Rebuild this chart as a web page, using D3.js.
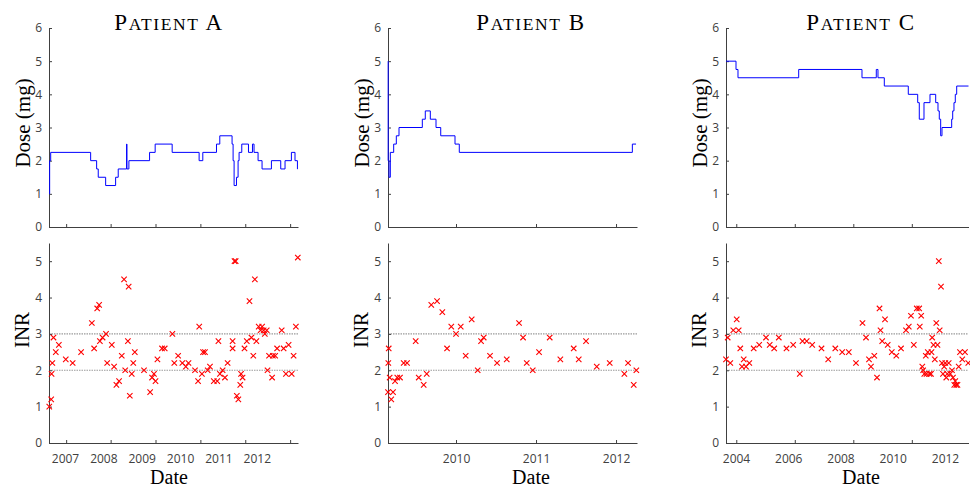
<!DOCTYPE html>
<html>
<head>
<meta charset="utf-8">
<script src="https://cdn.jsdelivr.net/npm/d3@7"></script>
<style>
  body { margin: 0; background: #fff; }
</style>
</head>
<body>
<script>
// Warfarin dose and INR for three patients, dates as decimal years

var w = 970;
var h = 489;

// y ticks
var doseTicks = [0, 1, 2, 3, 4, 5, 6];
var inrTicks = [0, 1, 2, 3, 4, 5];
var inrRange = [2, 3];

// x tick labels (years) and tick marks
var yearsA = [2007, 2008, 2009, 2010, 2011, 2012];
var marksA = [2007.03, 2008.19, 2009.36, 2010.53, 2011.70, 2012.87];
var yearsB = [2010, 2011, 2012];
var marksB = [2010, 2011, 2012];
var yearsC = [2004, 2006, 2008, 2010, 2012];
var marksC = [2004.01, 2006.25, 2008.49, 2010.73];

// Patient A
var doseDatesA = [2006.583, 2006.60, 2006.627, 2007.669, 2007.825, 2007.867, 2008.06, 2008.32, 2008.388, 2008.606,
  2008.615, 2008.666, 2009.205, 2009.351, 2009.794, 2010.497, 2010.593, 2010.95, 2011.036, 2011.356,
  2011.383, 2011.409, 2011.471, 2011.513, 2011.539, 2011.609, 2011.784, 2011.888, 2011.929, 2012.034,
  2012.138, 2012.382, 2012.625, 2012.737, 2012.903, 2012.997, 2013.06, 2013.07];
var doseA = [1.0, 2.0, 2.25, 2.0, 1.75, 1.5, 1.25, 1.5, 1.75, 2.5,
  1.75, 2.0, 2.25, 2.5, 2.25, 2.0, 2.25, 2.5, 2.75, 2.5,
  2.0, 1.25, 1.5, 2.0, 2.25, 2.5, 2.25, 2.5, 2.25, 2.0,
  1.75, 2.0, 1.75, 2.0, 2.25, 2.0, 1.75, 1.75];
var inrDatesA = [2006.59, 2006.64, 2006.65, 2006.67, 2006.70, 2006.76, 2006.84, 2007.02, 2007.20, 2007.42,
  2007.70, 2007.76, 2007.84, 2007.89, 2007.91, 2007.98, 2008.07, 2008.10, 2008.22, 2008.28,
  2008.34, 2008.41, 2008.48, 2008.54, 2008.57, 2008.64, 2008.66, 2008.69, 2008.74, 2008.78,
  2008.82, 2009.06, 2009.22, 2009.27, 2009.32, 2009.36, 2009.41, 2009.53, 2009.60, 2009.80,
  2009.85, 2009.95, 2010.06, 2010.15, 2010.22, 2010.39, 2010.47, 2010.50, 2010.57, 2010.60,
  2010.65, 2010.72, 2010.78, 2010.88, 2010.97, 2011.00, 2011.04, 2011.11, 2011.17, 2011.24,
  2011.37, 2011.37, 2011.42, 2011.45, 2011.48, 2011.52, 2011.57, 2011.59, 2011.63, 2011.68,
  2011.74, 2011.81, 2011.86, 2011.91, 2011.95, 2011.99, 2012.05, 2012.10, 2012.14, 2012.18,
  2012.21, 2012.26, 2012.28, 2012.32, 2012.40, 2012.42, 2012.48, 2012.53, 2012.65, 2012.70,
  2012.76, 2012.83, 2012.91, 2012.96, 2013.02, 2013.07];
var inrA = [1.0, 1.2, 1.9, 2.2, 2.9, 2.5, 2.7, 2.3, 2.2, 2.5,
  3.3, 2.6, 3.7, 3.8, 2.8, 2.9, 3.0, 2.2, 2.7, 2.1,
  1.6, 1.7, 2.4, 4.5, 2.0, 2.8, 4.3, 1.3, 1.9, 2.2,
  2.5, 2.0, 1.4, 1.8, 1.9, 1.7, 2.3, 2.6, 2.6, 3.0,
  2.2, 2.4, 2.2, 2.1, 2.2, 2.0, 1.7, 3.2, 1.9, 2.5,
  2.5, 2.0, 2.1, 1.7, 1.7, 2.8, 1.9, 2.0, 1.8, 2.2,
  2.8, 2.6, 5.0, 5.0, 1.3, 1.2, 1.6, 1.9, 1.8, 2.6,
  2.8, 3.9, 2.9, 2.4, 4.5, 2.8, 3.2, 3.1, 3.2, 3.1,
  3.0, 3.1, 2.0, 2.4, 1.8, 2.4, 2.4, 2.6, 3.1, 2.6,
  1.9, 2.7, 1.9, 2.4, 3.2, 5.1];

// Patient B
var doseDatesB = [2009.15, 2009.152, 2009.1625, 2009.179, 2009.221, 2009.254, 2009.2875, 2009.579, 2009.616, 2009.679,
  2009.75, 2009.809, 2009.9875, 2010.041, 2012.204, 2012.25];
var doseB = [5.0, 2.0, 1.5, 2.25, 2.5, 2.75, 3.0, 3.25, 3.5, 3.25,
  3.0, 2.75, 2.5, 2.25, 2.5, 2.5];
var inrDatesB = [2009.150, 2009.154, 2009.159, 2009.171, 2009.191, 2009.213, 2009.238, 2009.266, 2009.300, 2009.346,
  2009.388, 2009.496, 2009.534, 2009.596, 2009.634, 2009.691, 2009.763, 2009.829, 2009.888, 2009.941,
  2010.000, 2010.059, 2010.121, 2010.196, 2010.271, 2010.313, 2010.346, 2010.425, 2010.513, 2010.634,
  2010.788, 2010.838, 2010.884, 2010.959, 2011.038, 2011.171, 2011.304, 2011.471, 2011.534, 2011.625,
  2011.759, 2011.921, 2012.104, 2012.150, 2012.221, 2012.254];
var inrB = [1.4, 2.2, 2.6, 1.8, 1.2, 1.4, 1.7, 1.8, 1.8, 2.2,
  2.2, 2.8, 1.8, 1.6, 1.9, 3.8, 3.9, 3.6, 2.6, 3.2,
  3.0, 3.2, 2.4, 3.4, 2.0, 2.8, 2.9, 2.4, 2.2, 2.3,
  3.3, 2.9, 2.2, 2.0, 2.5, 2.9, 2.3, 2.6, 2.3, 2.8,
  2.1, 2.2, 1.9, 2.2, 1.6, 2.0];

// Patient C
var doseDatesC = [2003.617, 2004.0, 2004.076, 2006.40, 2008.823, 2009.37, 2009.435, 2009.677, 2010.595, 2010.955,
  2011.016, 2011.196, 2011.426, 2011.644, 2011.732, 2011.782, 2011.835, 2011.885, 2012.256, 2012.295,
  2012.344, 2012.394, 2012.448, 2012.90];
var doseC = [5.0, 4.75, 4.5, 4.75, 4.5, 4.75, 4.5, 4.25, 4.0, 3.75,
  3.25, 3.75, 4.0, 3.75, 3.5, 3.25, 2.75, 3.0, 3.25, 3.5,
  3.75, 4.0, 4.25, 4.25];
var inrDatesC = [2003.617, 2003.682, 2003.782, 2003.896, 2004.027, 2004.103, 2004.164, 2004.229, 2004.295, 2004.383,
  2004.509, 2004.677, 2004.888, 2005.148, 2005.290, 2005.462, 2005.638, 2005.933, 2006.189, 2006.442,
  2006.545, 2006.706, 2006.917, 2007.273, 2007.529, 2007.801, 2008.065, 2008.318, 2008.593, 2008.842,
  2008.976, 2009.091, 2009.167, 2009.294, 2009.397, 2009.493, 2009.531, 2009.596, 2009.703, 2009.807,
  2009.963, 2010.136, 2010.316, 2010.507, 2010.614, 2010.698, 2010.806, 2010.920, 2011.012, 2011.035,
  2011.089, 2011.131, 2011.165, 2011.208, 2011.265, 2011.292, 2011.342, 2011.407, 2011.464, 2011.483,
  2011.510, 2011.560, 2011.610, 2011.667, 2011.713, 2011.763, 2011.797, 2011.847, 2011.885, 2011.923,
  2011.969, 2012.011, 2012.050, 2012.088, 2012.142, 2012.203, 2012.268, 2012.306, 2012.356, 2012.394,
  2012.432, 2012.478, 2012.524, 2012.574, 2012.662, 2012.765, 2012.892];
var inrC = [2.3, 2.9, 2.2, 3.1, 3.4, 3.1, 2.6, 2.1, 2.3, 2.1,
  2.2, 2.6, 2.7, 2.9, 2.7, 2.6, 2.9, 2.6, 2.7, 1.9,
  2.8, 2.8, 2.7, 2.6, 2.3, 2.6, 2.5, 2.5, 2.2, 3.3,
  2.9, 2.3, 2.1, 2.4, 1.8, 3.7, 3.1, 2.8, 3.4, 2.7,
  2.5, 2.4, 2.6, 3.1, 3.2, 3.5, 2.7, 3.7, 3.7, 3.2,
  3.5, 2.1, 2.0, 1.9, 2.4, 1.9, 2.5, 1.9, 1.9, 2.5,
  2.9, 2.7, 2.3, 3.3, 2.7, 5.0, 3.1, 4.3, 2.2, 1.9,
  2.1, 2.2, 1.8, 1.9, 2.2, 1.9, 2.0, 1.8, 1.6, 1.7,
  1.6, 1.6, 2.1, 2.5, 2.3, 2.5, 2.2];

// layout of the three columns
var panels = [
  { letter: "A", left: 49, right: 298, domain: [2006.583, 2013.075], years: yearsA, marks: marksA,
    doseDates: doseDatesA, dose: doseA, inrDates: inrDatesA, inr: inrA, centerX: 169 },
  { letter: "B", left: 388, right: 637, domain: [2009.15, 2012.262], years: yearsB, marks: marksB,
    doseDates: doseDatesB, dose: doseB, inrDates: inrDatesB, inr: inrB, centerX: 531 },
  { letter: "C", left: 726, right: 968.5, domain: [2003.617, 2012.90], years: yearsC, marks: marksC,
    doseDates: doseDatesC, dose: doseC, inrDates: inrDatesC, inr: inrC, centerX: 861 }
];

var axisColor = "#404040";
var tickFont = "'Open Sans', sans-serif";
var serifFont = "'Liberation Serif', 'Times New Roman', serif";

var yDose = d3.scaleLinear().domain([0, 6]).range([227, 28]);
var yInr = d3.scaleLinear().domain([0, 5.5]).range([443, 243]);

var svg = d3.select("body")
  .append("svg")
  .attr("width", w)
  .attr("height", h);

svg.append("rect").attr("width", w).attr("height", h).attr("fill", "#fff");

function styleAxis(g) {
  g.attr("font-family", tickFont).attr("font-size", 12);
  g.selectAll("text").attr("fill", axisColor);
  g.selectAll("line").attr("stroke", axisColor);
  g.select(".domain").attr("stroke", axisColor);
}

function drawPanel(p) {
  var x = d3.scaleLinear().domain(p.domain).range([p.left, p.right]);

  // ---- dose (top) ----
  svg.append("g")
    .attr("transform", "translate(" + p.left + ",0)")
    .call(d3.axisLeft(yDose).tickValues(doseTicks).tickFormat(d3.format("d"))
      .tickSizeInner(-3).tickSizeOuter(0).tickPadding(7))
    .call(styleAxis);

  svg.append("g")
    .attr("transform", "translate(0," + yDose(0) + ")")
    .call(d3.axisBottom(x).tickValues(p.marks).tickSizeInner(-3).tickSizeOuter(0).tickFormat(""))
    .call(styleAxis);

  var dosePts = p.doseDates.map(function(d, i) { return [d, p.dose[i]]; });
  var doseLine = d3.line()
    .x(function(d) { return x(d[0]); })
    .y(function(d) { return yDose(d[1]); })
    .curve(d3.curveStepAfter);

  svg.append("path")
    .datum(dosePts)
    .attr("d", doseLine)
    .attr("fill", "none")
    .attr("stroke", "#0000ff")
    .attr("stroke-width", 1);

  // title in small caps
  var title = svg.append("text")
    .attr("x", p.centerX)
    .attr("y", 30)
    .attr("text-anchor", "middle")
    .attr("font-family", serifFont)
    .attr("letter-spacing", "1.6px")
    .attr("fill", "#000");
  title.append("tspan").attr("font-size", 23).text("P");
  title.append("tspan").attr("font-size", 17.5).text("ATIENT");
  title.append("tspan").attr("font-size", 23).text(" " + p.letter);

  svg.append("text")
    .attr("transform", "translate(" + (p.left - 19.5) + ",123) rotate(-90)")
    .attr("text-anchor", "middle")
    .attr("font-family", serifFont)
    .attr("font-size", 21)
    .attr("fill", "#000")
    .text("Dose (mg)");

  // ---- INR (bottom) ----
  svg.selectAll(null)
    .data(inrRange)
    .enter()
    .append("line")
    .attr("x1", p.left)
    .attr("x2", p.right)
    .attr("y1", function(d) { return yInr(d); })
    .attr("y2", function(d) { return yInr(d); })
    .attr("stroke", "#9a9a9a")
    .attr("stroke-width", 1.2)
    .attr("stroke-dasharray", "1.5,1");

  svg.append("g")
    .attr("transform", "translate(" + p.left + ",0)")
    .call(d3.axisLeft(yInr).tickValues(inrTicks).tickFormat(d3.format("d"))
      .tickSizeInner(-3).tickSizeOuter(0).tickPadding(7))
    .call(styleAxis);

  svg.append("g")
    .attr("transform", "translate(0," + yInr(0) + ")")
    .call(d3.axisBottom(x).tickValues(p.marks).tickSizeInner(-3).tickSizeOuter(0).tickFormat(""))
    .call(styleAxis);

  var yearAxis = svg.append("g")
    .attr("transform", "translate(0," + yInr(0) + ")")
    .call(d3.axisBottom(x).tickValues(p.years).tickSize(0).tickPadding(11).tickFormat(d3.format("d")))
    .call(styleAxis);
  yearAxis.select(".domain").remove();

  var inrPts = p.inrDates.map(function(d, i) { return [d, p.inr[i]]; });
  svg.selectAll(null)
    .data(inrPts)
    .enter()
    .append("path")
    .attr("transform", function(d) {
      return "translate(" + x(d[0]) + "," + yInr(d[1]) + ")";
    })
    .attr("d", "M-2.7,-2.7L2.7,2.7M-2.7,2.7L2.7,-2.7")
    .attr("stroke", "#ff0000")
    .attr("stroke-width", 1.1)
    .attr("fill", "none");

  svg.append("text")
    .attr("transform", "translate(" + (p.left - 20.5) + ",330) rotate(-90)")
    .attr("text-anchor", "middle")
    .attr("font-family", serifFont)
    .attr("font-size", 21)
    .attr("fill", "#000")
    .text("INR");

  svg.append("text")
    .attr("x", p.centerX)
    .attr("y", 484)
    .attr("text-anchor", "middle")
    .attr("font-family", serifFont)
    .attr("font-size", 20)
    .attr("fill", "#000")
    .text("Date");
}

panels.forEach(drawPanel);
</script>
</body>
</html>
